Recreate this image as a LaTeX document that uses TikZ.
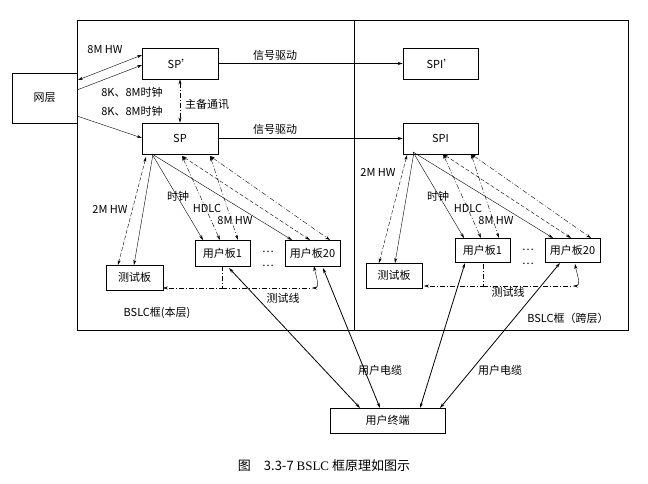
\documentclass[tikz,border=0pt]{standalone}
\usepackage{fontspec}
\setmainfont{Liberation Serif}
\newfontfamily\cjk{Noto Sans CJK SC}
\usetikzlibrary{arrows.meta}
\begin{document}
\begin{tikzpicture}[x=1pt,y=-1pt,
  box/.style={draw,thick,minimum height=0pt,inner sep=0pt},
  lab/.style={font=\cjk\fontsize{11}{13}\selectfont,inner sep=0pt},
  ar/.style={-{Stealth[length=5pt,width=3pt]}},
  dar/.style={{Stealth[length=5pt,width=3pt]}-{Stealth[length=5pt,width=3pt]}},
  dd/.style={dash pattern=on 5pt off 2pt on 1pt off 2pt},
  ds/.style={dash pattern=on 4pt off 2pt}]
\useasboundingbox (0,0) rectangle (648,484);
\draw (77,20) rectangle (628,330);
\draw (354,20) -- (354,330);
% boxes
\newcommand{\bx}[6]{\node[box,lab,minimum width=#4-#2,minimum height=#5-#3] (#1) at ({(#2+#4)/2},{(#3+#5)/2}) {#6};}
\bx{net}{12}{73}{77}{123}{网层}
\bx{spp}{142}{48}{218}{79}{SP’}
\bx{sp}{142}{123}{218}{154}{SP}
\bx{spip}{403}{48}{478}{79}{SPI’}
\bx{spi}{403}{123}{478}{154}{SPI}
\bx{tl}{106}{265}{163}{290}{测试板}
\bx{ua}{195}{240}{250}{266}{用户板1}
\bx{ub}{285}{240}{340}{266}{用户板20}
\bx{tr}{366}{263}{422}{288}{测试板}
\bx{uc}{455}{238}{510}{262}{用户板1}
\bx{ud}{545}{238}{600}{262}{用户板20}
\bx{term}{330}{408}{445}{433}{用户终端}
% top
\draw[dar] (78,80) -- (142,55);
\draw[ar] (77,90) -- (142,65);
\draw[ar] (77,116) -- (142,138);
\node[lab] (l1) at (105,50) {8M HW};
\node[lab] (l2) at (132,92) {8K、8M时钟};
\node[lab] (l3) at (132,111) {8K、8M时钟};
\draw[ar] (spp) -- (spip);
\draw[ar] (sp) -- (spi);
\node[lab,fill=white,inner sep=1pt] (l4) at (275,55) {信号驱动};
\node[lab,fill=white,inner sep=1pt] (l5) at (275,129) {信号驱动};
\draw[dar,dd] (spp.south) ++(0,0) -- (sp.north);
\node[lab] (l6) at (207,104) {主备通讯};
% fans
\foreach \s/\ox/\tt/\aa/\bb/\tx/\ty in {sp/0/tl/ua/ub/0/0, spi/261/tr/uc/ud/261/-2}{
  \begin{scope}[shift={(\tx,\ty)}]
  \draw[dar,ds] (146,157) -- (118,265);
  \draw[ar] (153,154) -- (134,265);
  \draw[ar] (152,154) -- (203,240);
  \draw[ar] (152,154) -- (292,240);
  \draw[dar,dd] (182,156) -- (220,240);
  \draw[dar,dd] (210,156) -- (238,240);
  \draw[dar,ds] (182,156) -- (310,240);
  \draw[dar,dd] (210,156) -- (330,240);
  \draw[dd,-{Stealth[length=5pt,width=3pt]}] (222,266) -- (222,288) -- (163,288);
  \draw[dd] (222,288) -- (312,288);
  \draw[{Stealth[length=5pt,width=3pt]}-{Stealth[length=5pt,width=3pt]}] (312,288) to[out=0,in=-80] (314,266);
  \end{scope}}
\node[lab] (l7) at (110,209) {2M HW};
\node[lab] (l8) at (178,196) {时钟};
\node[lab] (l9) at (207,208) {HDLC};
\node[lab] (l10) at (235,221) {8M HW};
\node[lab] (l11) at (283,298) {测试线};
\node[lab] (l12) at (268,252) {…};
\node[lab] (l13) at (268,266) {…};
\node[lab] (l14) at (157,313) {BSLC框(本层)};
\node[lab] (l15) at (378,172) {2M HW};
\node[lab] (l16) at (438,196) {时钟};
\node[lab] (l17) at (468,208) {HDLC};
\node[lab] (l18) at (496,221) {8M HW};
\node[lab] (l19) at (508,292) {测试线};
\node[lab] (l20) at (528,250) {…};
\node[lab] (l21) at (528,264) {…};
\node[lab] (l22) at (568,318) {BSLC框（跨层）};
% cables
\draw[dar,thick] (229,268) -- (360,408);
\draw[dar,thick] (323,268) -- (380,408);
\draw[dar,thick] (465,263) -- (420,408);
\draw[dar,thick] (560,263) -- (440,408);
\node[lab] (l23) at (380,370) {用户电缆};
\node[lab] (l24) at (500,370) {用户电缆};
\node[lab,font=\cjk\fontsize{13}{15}\selectfont] (cap) at (324,466) {图\quad 3.3-7 {\rmfamily BSLC} 框原理如图示};
\end{tikzpicture}
\end{document}
